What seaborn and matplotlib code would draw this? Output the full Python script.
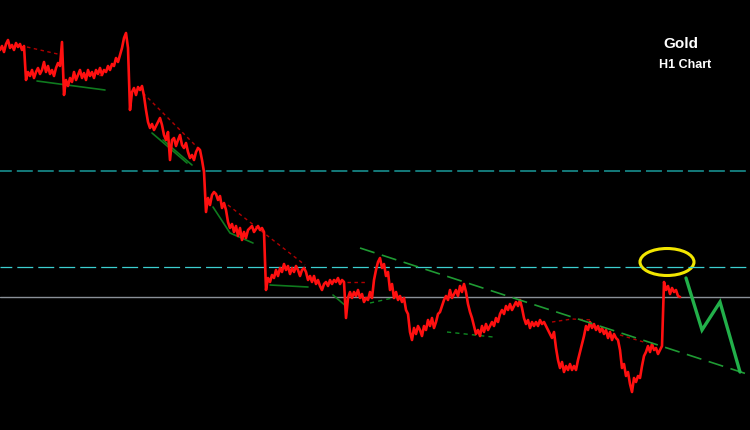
import numpy as np
import pandas as pd
import matplotlib
matplotlib.use("Agg")
import matplotlib.pyplot as plt
import seaborn as sns
from matplotlib.patches import Ellipse

# ---- data (hourly bars, price) ----
bar_step = 2
prices = [
    1950, 1954, 1948, 1956, 1960, 1952, 1955, 1950, 1957, 1953,
    1956, 1950, 1954, 1920, 1928, 1924, 1930, 1922, 1928, 1932,
    1926, 1930, 1938, 1928, 1934, 1926, 1930, 1924, 1932, 1937,
    1934, 1958, 1905, 1920, 1914, 1922, 1918, 1928, 1920, 1925,
    1930, 1922, 1927, 1920, 1930, 1924, 1928, 1922, 1930, 1926,
    1932, 1925, 1930, 1928, 1934, 1930, 1936, 1934, 1942, 1938,
    1945, 1952, 1962, 1967, 1952, 1890, 1908, 1912, 1905, 1913,
    1910, 1914, 1904, 1890, 1878, 1872, 1876, 1870, 1874, 1878,
    1882, 1875, 1865, 1860, 1868, 1840, 1860, 1862, 1854, 1860,
    1865, 1855, 1852, 1857, 1848, 1842, 1845, 1840, 1848, 1852,
    1850, 1840, 1828, 1788, 1802, 1795, 1805, 1808, 1806, 1800,
    1804, 1792, 1797, 1790, 1778, 1772, 1776, 1768, 1774, 1764,
    1772, 1760, 1768, 1762, 1770, 1772, 1774, 1768, 1771, 1774,
    1770, 1772, 1768, 1710, 1722, 1718, 1725, 1722, 1730, 1724,
    1732, 1728, 1736, 1730, 1734, 1726, 1732, 1728, 1734, 1730,
    1724, 1730, 1732, 1728, 1720, 1724, 1718, 1724, 1716, 1720,
    1714, 1710, 1716, 1718, 1714, 1720, 1716, 1720, 1718, 1722,
    1716, 1720, 1718, 1682, 1702, 1708, 1702, 1708, 1704, 1710,
    1702, 1706, 1698, 1702, 1700, 1708, 1702, 1720, 1730, 1738,
    1742, 1732, 1736, 1724, 1728, 1710, 1716, 1702, 1708, 1700,
    1704, 1698, 1702, 1690, 1686, 1668, 1660, 1672, 1666, 1674,
    1670, 1664, 1674, 1670, 1680, 1674, 1682, 1672, 1678, 1686,
    1688, 1694, 1700, 1704, 1700, 1710, 1702, 1706, 1710, 1704,
    1714, 1708, 1716, 1708, 1696, 1688, 1682, 1674, 1666, 1670,
    1664, 1674, 1668, 1676, 1670, 1674, 1678, 1674, 1682, 1678,
    1686, 1690, 1686, 1694, 1690, 1696, 1690, 1694, 1698, 1694,
    1700, 1692, 1682, 1676, 1680, 1672, 1678, 1674, 1678, 1674,
    1680, 1676, 1678, 1674, 1670, 1666, 1662, 1668, 1652, 1640,
    1632, 1638, 1628, 1634, 1630, 1636, 1630, 1634, 1630, 1640,
    1648, 1656, 1664, 1674, 1670, 1678, 1672, 1676, 1670, 1674,
    1668, 1672, 1666, 1670, 1662, 1668, 1660, 1666, 1662, 1660,
    1650, 1632, 1636, 1624, 1628, 1616, 1608, 1622, 1618, 1624,
    1622, 1634, 1644, 1648, 1654, 1648, 1656, 1650, 1652, 1646,
    1650, 1654, 1718, 1710, 1714, 1706, 1712, 1708, 1710, 1704, 1703,
]
bars = np.arange(len(prices)) * bar_step

# horizontal levels
resistance_hi = 1829
resistance_lo = 1733
pivot = 1703

# descending trendline
trend_x = [360, 750]
trend_y = [1752, 1625]

# projected path
proj_x = [686, 702, 720, 740]
proj_y = [1722, 1670, 1698, 1628]

# highlight ellipse
ell_x, ell_y = 667, 1738
ell_w, ell_h = 54, 27

# small pattern lines
red_dash_segments = [
    ([27, 62], [1953, 1945]),
    ([85, 103], [1925, 1925]),
    ([143, 200], [1907, 1850]),
    ([228, 305], [1795, 1735]),
    ([347, 367], [1718, 1718]),
    ([552, 572, 593], [1678, 1681, 1680]),
    ([620, 647], [1665, 1657]),
]
green_segments = [
    ([37, 67, 105], [1919, 1915, 1910]),
    ([152, 187], [1867, 1837]),
    ([163, 192], [1860, 1835]),
    ([213, 230, 253], [1793, 1767, 1757]),
    ([270, 308], [1715, 1713]),
    ([333, 347], [1705, 1693]),
]
green_dash_segments = [
    ([370, 397], [1697, 1703]),
    ([447, 493], [1668, 1663]),
]

df = pd.DataFrame({"bar": bars, "price": prices})

sns.set_theme(style="dark", rc={"axes.facecolor": "black", "figure.facecolor": "black"})
plt.rcParams["font.family"] = ["Liberation Sans", "DejaVu Sans"]
plt.rcParams["lines.scale_dashes"] = False

fig = plt.figure(figsize=(7.5, 4.3), dpi=100)
ax = fig.add_axes([0, 0, 1, 1])
ax.set_facecolor("black")

# levels
ax.axhline(resistance_hi, color="#1a9a9a", lw=1.1, linestyle=(3, (11.5, 3.6)))
ax.axhline(resistance_lo, color="#3ccfd0", lw=0.9, linestyle=(3, (11.5, 3.6)))
ax.axhline(pivot, color="#8a9098", lw=1.0)

# pattern lines
for xs, ys in red_dash_segments:
    ax.plot(xs, ys, color="#b00000", lw=1.0, linestyle=(0, (2.5, 2.5)))
for xs, ys in green_segments:
    ax.plot(xs, ys, color="#0f7a1e", lw=1.2)
for xs, ys in green_dash_segments:
    ax.plot(xs, ys, color="#0f8a22", lw=1.0, linestyle=(0, (3, 3)))

# price
sns.lineplot(data=df, x="bar", y="price", color="#ff1010", lw=1.9,
             estimator=None, sort=False, ax=ax)

# trendline + projection
ax.plot(trend_x, trend_y, color="#1f9a33", lw=1.2, linestyle=(0, (11, 5.5)))
ax.plot(proj_x, proj_y, color="#22b04a", lw=2.4, solid_joinstyle="miter")

ax.add_patch(Ellipse((ell_x, ell_y), ell_w, ell_h, fill=False,
                     edgecolor="#f2e600", lw=2.2))

ax.text(681, 1956, "Gold", color="white", fontsize=11, fontweight="bold",
        ha="center", va="center")
ax.text(685, 1935, "H1 Chart", color="white", fontsize=9, fontweight="bold",
        ha="center", va="center")

ax.set_xlim(0, 750)
ax.set_ylim(1570, 2000)
ax.set_xticks([])
ax.set_yticks([])
ax.set_xlabel("")
ax.set_ylabel("")
for s in ax.spines.values():
    s.set_visible(False)

fig.savefig("out.png", dpi=100, facecolor="black")
